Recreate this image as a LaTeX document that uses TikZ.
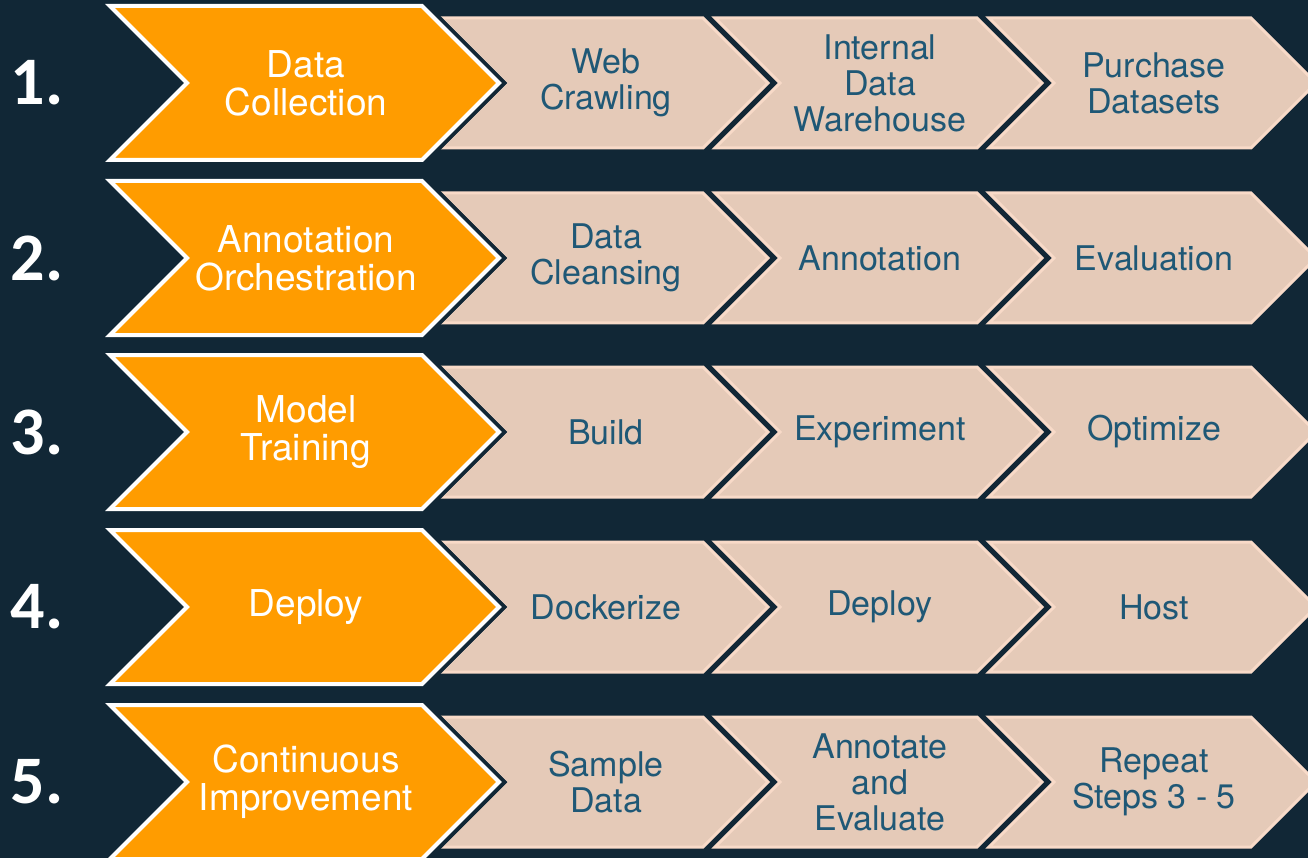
\documentclass[tikz,border=0pt]{standalone}
\usepackage{fontspec}
\setmainfont{TeX Gyre Heros}
\newfontfamily\labelfont{TeX Gyre Heros}
\newfontfamily\numfont{Carlito}
\usetikzlibrary{positioning}

\definecolor{navy}{HTML}{112736}
\definecolor{stageorange}{HTML}{FF9C00}
\definecolor{taskfill}{HTML}{E5CAB8}
\definecolor{taskline}{HTML}{F8DAC8}
\definecolor{tasktext}{HTML}{1F5876}

% orange stage chevron (left notch at x=110) with its label
\newcommand{\stage}[3]{%
  \path[stagebox] (110,#2-77) -- ++(312,0) -- ++(77,77) -- ++(-77,77) -- ++(-312,0) -- ++(77,-77) -- cycle;
  \node[stagetext] (#1) at (306,#2) {#3};}
% beige task chevron starting at x=#2
\newcommand{\task}[4]{%
  \path[taskbox] (#2,#3-65) -- ++(262,0) -- ++(65,65) -- ++(-65,65) -- ++(-262,0) -- ++(65,-65) -- cycle;
  \node[tasktext] (#1) at (#2+165,#3) {#4};}

\begin{document}
\begin{tikzpicture}[
            x=1pt, y=-1pt,
            stagebox/.style={fill=stageorange, draw=white, line width=4pt, miter limit=4,
                preaction={draw=navy, line width=12pt}},
            taskbox/.style={fill=taskfill, draw=taskline, line width=3pt},
            stagetext/.style={text=white, align=center, inner sep=0pt, font=\labelfont\fontsize{37}{38}\selectfont},
            tasktext/.style={text=tasktext, align=center, inner sep=0pt, font=\labelfont\fontsize{34}{36}\selectfont},
            number/.style={text=white, inner sep=0pt, font=\numfont\bfseries\fontsize{68}{68}\selectfont}
        ]
        \fill[navy] (0,0) rectangle (1308,858);
        \useasboundingbox (0,0) rectangle (1308,858);
        \clip (0,0) rectangle (1308,858);

        % 1. data collection
        \task{crawl}{441}{83}{Web\\Crawling}
        \task{warehouse}{715}{83}{Internal\\Data\\Warehouse}
        \task{purchase}{989}{83}{Purchase\\Datasets}
        \stage{collect}{83}{Data\\Collection}
        \node[number] (n1) at (37,83) {1.};

        % 2. annotation orchestration
        \task{cleanse}{441}{258}{Data\\Cleansing}
        \task{annotate}{715}{258}{Annotation}
        \task{evaluate}{989}{258}{Evaluation}
        \stage{orchestrate}{258}{Annotation\\Orchestration}
        \node[number] (n2) at (37,258) {2.};

        % 3. model training
        \task{build}{441}{432}{Build}
        \task{experiment}{715}{432}{Experiment}
        \task{optimize}{989}{432}{Optimize}
        \stage{train}{432}{Model\\Training}
        \node[number] (n3) at (37,432) {3.};

        % 4. deploy
        \task{dockerize}{441}{607}{Dockerize}
        \task{deploytask}{715}{607}{Deploy}
        \task{host}{989}{607}{Host}
        \stage{deploy}{607}{Deploy}
        \node[number] (n4) at (37,607) {4.};

        % 5. continuous improvement
        \task{sample}{441}{782}{Sample\\Data}
        \task{reannotate}{715}{782}{Annotate\\and\\Evaluate}
        \task{repeat}{989}{782}{Repeat\\Steps 3 - 5}
        \stage{improve}{782}{Continuous\\Improvement}
        \node[number] (n5) at (37,782) {5.};
    \end{tikzpicture}
\end{document}
